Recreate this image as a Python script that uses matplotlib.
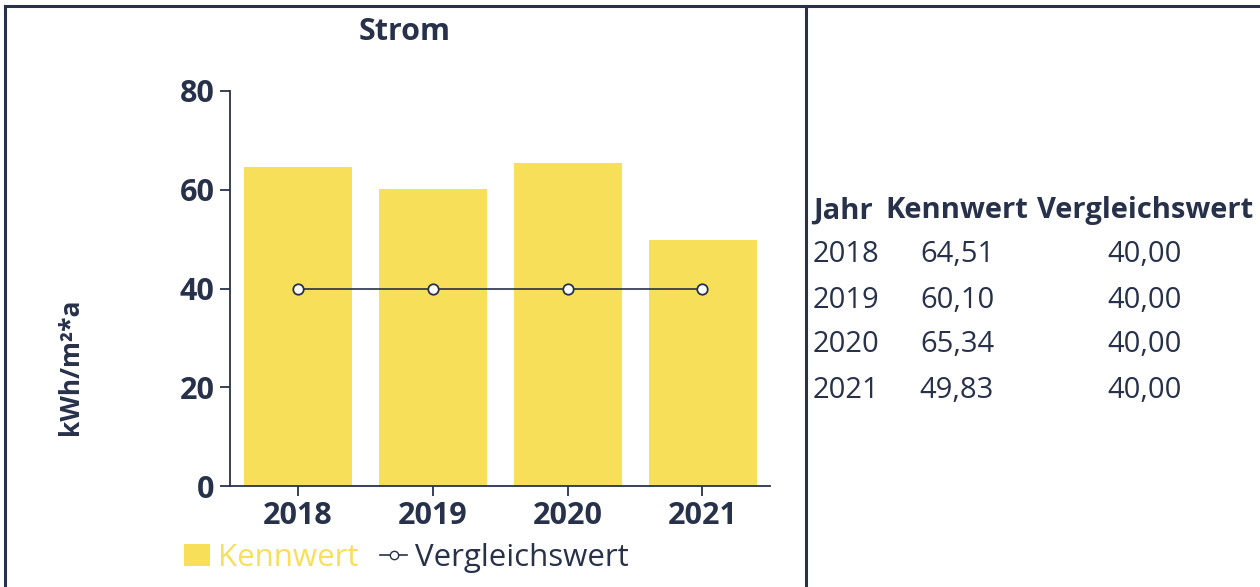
import matplotlib
matplotlib.use("Agg")
import matplotlib.pyplot as plt
from matplotlib.lines import Line2D
from matplotlib.patches import Patch

# Daten
jahre = ["2018", "2019", "2020", "2021"]
kennwert = [64.51, 60.10, 65.34, 49.83]
vergleichswert = [40.00, 40.00, 40.00, 40.00]
y_ticks = [0, 20, 40, 60, 80]

dunkel = "#27314a"
gelb = "#f7df5a"

plt.rcParams['font.family'] = ['Open Sans', 'DejaVu Sans']

fig = plt.figure(figsize=(12.6, 5.87), dpi=100)
ax = fig.add_axes([230/1260, 1-486/587, 540/1260, 395/587])

x = list(range(len(jahre)))
ax.bar(x, kennwert, width=0.8, color=gelb, zorder=1)
ax.plot(x, vergleichswert, color=dunkel, lw=1.2, marker='o', markersize=7.5,
        markerfacecolor='white', markeredgecolor=dunkel, markeredgewidth=1.3, zorder=3)

ax.set_xlim(-0.5, 3.5)
ax.set_ylim(0, 80)
ax.set_xticks(x)
ax.set_xticklabels(jahre)
ax.set_yticks(y_ticks)
for s in ["top", "right"]:
    ax.spines[s].set_visible(False)
for s in ["left", "bottom"]:
    ax.spines[s].set_color(dunkel)
    ax.spines[s].set_linewidth(1.3)
ax.tick_params(axis='both', colors=dunkel, length=7, width=1.3, labelsize=22, pad=4)
for lab in ax.get_xticklabels() + ax.get_yticklabels():
    lab.set_fontweight('bold')
    lab.set_color(dunkel)

fig.text(405/1260, 1-32/587, "Strom", ha='center', va='center', fontsize=22,
         fontweight='bold', color=dunkel)
fig.text(70/1260, 1-367/587, "kWh/m²*a", ha='center', va='center', rotation=90,
         fontsize=19, fontweight='bold', color=dunkel)

# Legende
handles = [Patch(facecolor=gelb, edgecolor='none'),
           Line2D([0], [0], color=dunkel, lw=1.2, marker='o', markersize=6,
                  markerfacecolor='white', markeredgecolor=dunkel)]
leg = fig.legend(handles, ["Kennwert", "Vergleichswert"], loc='center',
                 bbox_to_anchor=(406/1260, 1-558/587), ncol=2, frameon=False,
                 fontsize=22.5, handlelength=0.85, handletextpad=0.25, columnspacing=0.7)
leg.get_texts()[0].set_color(gelb)
leg.get_texts()[1].set_color(dunkel)

# Tabelle rechts
fs = 21
fig.text(813/1260, 1-211/587, "Jahr", ha='left', va='center', fontsize=fs,
         fontweight='bold', color=dunkel)
fig.text(957/1260, 1-211/587, "Kennwert", ha='center', va='center', fontsize=fs,
         fontweight='bold', color=dunkel)
fig.text(1145/1260, 1-211/587, "Vergleichswert", ha='center', va='center', fontsize=fs,
         fontweight='bold', color=dunkel)
for i in range(len(jahre)):
    yy = 1 - (255 + 45*i)/587
    fig.text(813/1260, yy, jahre[i], ha='left', va='center', fontsize=fs, color=dunkel)
    fig.text(957/1260, yy, f"{kennwert[i]:.2f}".replace('.', ','), ha='center',
             va='center', fontsize=fs, color=dunkel)
    fig.text(1145/1260, yy, f"{vergleichswert[i]:.2f}".replace('.', ','), ha='center',
             va='center', fontsize=fs, color=dunkel)

# Rahmen
fig.add_artist(Line2D([5/1260, 5/1260], [0, 1-6/587], color=dunkel, lw=2.2))
fig.add_artist(Line2D([5/1260, 1], [1-6/587, 1-6/587], color=dunkel, lw=2.2))
fig.add_artist(Line2D([806/1260, 806/1260], [0, 1-6/587], color=dunkel, lw=2.2))

fig.savefig("out.png", dpi=100)
